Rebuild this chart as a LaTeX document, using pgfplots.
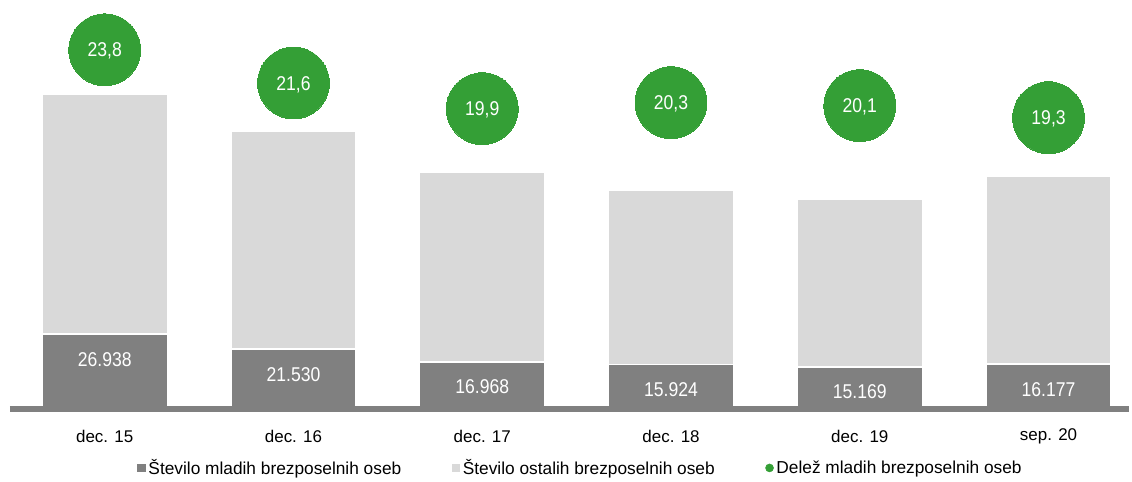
\documentclass[border=0pt]{standalone}
\usepackage{pgfplots}
\pgfplotsset{compat=1.18}
\usepackage{fontspec}
\setmainfont{Liberation Sans}
\newfontfamily\narrow{Liberation Sans}[FakeStretch=0.88]
\definecolor{darkbar}{RGB}{128,128,128}
\definecolor{lightbar}{RGB}{217,217,217}
\definecolor{sharegreen}{RGB}{52,159,54}
\definecolor{baseline}{RGB}{128,128,128}

% young unemployed, other unemployed
\pgfplotstableread{
x young other
0 26938 86247
1 21530 78146
2 16968 68298
3 15924 62519
4 15169 60299
5 16177 67642
}\counts

% share of young unemployed (%)
\pgfplotstableread{
x share
0 23.8
1 21.6
2 19.9
3 20.3
4 20.1
5 19.3
}\share

\begin{document}
\begin{tikzpicture}
\pgfplotsset{
    base/.style={
        scale only axis,
        width=841.5pt,
        height=307.5pt,
        xmin=-0.502, xmax=5.428,
        clip=false,
    },
}
\begin{axis}[
    base,
    name=main,
    ybar stacked,
    bar width=94pt,
    ymin=0, ymax=147000,
    axis on top,
    axis x line*=bottom,
    axis y line=none,
    axis line style={-, draw=baseline, line width=4pt},
    xtick={0,1,2,3,4,5},
    xticklabels={dec. 15,dec. 16,dec. 17,dec. 18,dec. 19,sep. 20},
    major tick length=0pt,
    xticklabel style={anchor=center, yshift=-20.5pt, font=\fontsize{12.75}{14}\selectfont},
    legend style={
        at={(0.51,-0.144)}, anchor=center,
        legend columns=3, draw=none, fill=none,
        font=\fontsize{13}{15}\selectfont,
        /tikz/every even column/.append style={column sep=36pt},
    },
]
\addplot[fill=darkbar, draw=white, line width=1.1pt,
    legend image code/.code={\fill[darkbar] (0pt,-2.6pt) rectangle (5.2pt,2.6pt);},
] table[x=x, y=young] {\counts};
\addplot[fill=lightbar, draw=white, line width=1.1pt,
    legend image code/.code={\fill[lightbar] (0pt,-2.6pt) rectangle (5.2pt,2.6pt);},
] table[x=x, y=other] {\counts};
\addlegendimage{legend image code/.code={\fill[sharegreen] (2.6pt,0pt) circle (3pt);}}
\legend{Število mladih brezposelnih oseb, Število ostalih brezposelnih oseb, Delež mladih brezposelnih oseb}
\end{axis}

% value labels inside the dark segments
\begin{axis}[
    base,
    ymin=0, ymax=147000,
    hide axis,
]
\addplot[draw=none, mark=none,
    nodes near coords,
    nodes near coords style={anchor=base, yshift=-24.1pt, text=white, font=\narrow\fontsize{15}{17}\selectfont,
        /pgf/number format/.cd, fixed, precision=0, 1000 sep={.}, assume math mode=true},
] table[x=x, y=young] {\counts};
\end{axis}

\begin{axis}[
    base,
    ymin=0, ymax=27.1,
    hide axis,
]
\addplot[color=sharegreen, only marks, mark=*, mark size=27pt,
    mark options={fill=sharegreen, draw=sharegreen, line width=0pt},
    nodes near coords,
    nodes near coords style={anchor=base, yshift=-5.35pt, text=white, font=\narrow\fontsize{15}{17}\selectfont,
        /pgf/number format/.cd, fixed, fixed zerofill, precision=1, use comma, assume math mode=true},
] table[x=x, y=share] {\share};
\end{axis}

\path (main.south west) ++(-7.5pt,-53.25pt) rectangle (main.north east);
\end{tikzpicture}
\end{document}
